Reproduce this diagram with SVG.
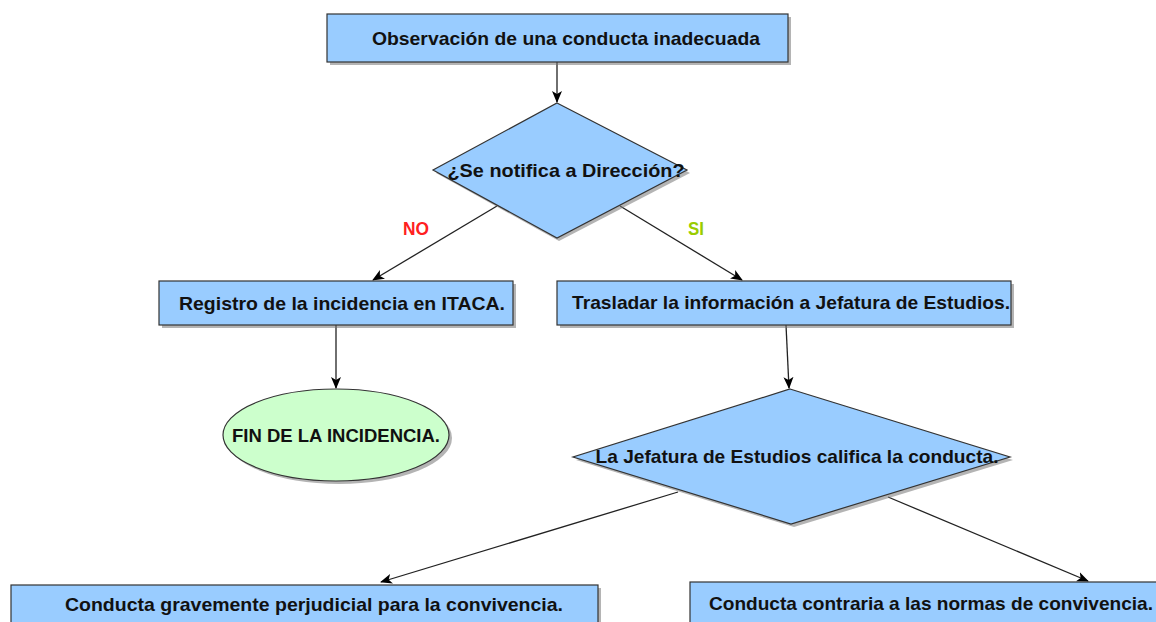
<svg xmlns="http://www.w3.org/2000/svg" width="1156" height="622" viewBox="0 0 1156 622">
<style>
.box{fill:#99ccff;stroke:#333;stroke-width:1.2}
.oval{fill:#ccffcc;stroke:#333;stroke-width:1.2}
.shadow{fill:#777;opacity:0.55}
.t{font-family:"Liberation Sans",Arial,sans-serif;font-weight:bold;font-size:19px;fill:#111;text-anchor:middle}
.lbl{font-family:"Liberation Sans",Arial,sans-serif;font-weight:bold;font-size:18px;text-anchor:middle}
.conn{stroke:#222;stroke-width:1.3;fill:none;marker-end:url(#arr)}
</style>
<defs>
<marker id="arr" viewBox="0 0 12 10" refX="11" refY="5" markerWidth="12" markerHeight="10" markerUnits="userSpaceOnUse" orient="auto">
<path d="M0,0 L12,5 L0,10 L3,5 z" fill="#000"/>
</marker>
</defs>
<rect width="1156" height="622" fill="#fff"/>
<g id="connectors">
<line class="conn" x1="557" y1="62" x2="557" y2="102"/>
<line class="conn" x1="497" y1="206" x2="373" y2="280"/>
<line class="conn" x1="620" y1="206" x2="742" y2="280"/>
<line class="conn" x1="336" y1="325" x2="336" y2="388"/>
<line class="conn" x1="786" y1="325" x2="789" y2="388"/>
<line class="conn" x1="678" y1="492" x2="381" y2="582"/>
<line class="conn" x1="888" y1="497" x2="1088" y2="581"/>
<text class="lbl" x="416" y="235" fill="#ff2020" textLength="26" lengthAdjust="spacingAndGlyphs">NO</text>
<text class="lbl" x="696" y="235" fill="#99cc00" textLength="16" lengthAdjust="spacingAndGlyphs">SI</text>
</g>
<g id="n-observacion">
<rect class="shadow" x="330" y="17" width="461" height="48"/>
<rect class="box" x="327" y="14" width="461" height="48"/>
<text class="t" x="566" y="45" textLength="388" lengthAdjust="spacingAndGlyphs">Observación de una conducta inadecuada</text>
</g>
<g id="n-notifica">
<polygon class="shadow" points="559,106 690,173 559,241 436,173"/>
<polygon class="box" points="557,103 687,170 557,238 433,170"/>
<text class="t" x="566" y="177" textLength="237" lengthAdjust="spacingAndGlyphs">¿Se notifica a Dirección?</text>
</g>
<g id="n-registro">
<rect class="shadow" x="162" y="284" width="354" height="44"/>
<rect class="box" x="159" y="281" width="354" height="44"/>
<text class="t" x="342" y="310" textLength="326" lengthAdjust="spacingAndGlyphs">Registro de la incidencia en ITACA.</text>
</g>
<g id="n-trasladar">
<rect class="shadow" x="560" y="284" width="454" height="44"/>
<rect class="box" x="557" y="281" width="454" height="44"/>
<text class="t" x="791" y="309" textLength="438" lengthAdjust="spacingAndGlyphs">Trasladar la información a Jefatura de Estudios.</text>
</g>
<g id="n-fin">
<ellipse class="shadow" cx="339" cy="438" rx="113" ry="46"/>
<ellipse class="oval" cx="336" cy="435" rx="113" ry="46"/>
<text class="t" x="336" y="442" textLength="208" lengthAdjust="spacingAndGlyphs">FIN DE LA INCIDENCIA.</text>
</g>
<g id="n-califica">
<polygon class="shadow" points="793,392 1013,460 794,527 576,460"/>
<polygon class="box" points="790,389 1010,457 791,524 573,457"/>
<text class="t" x="797" y="463" textLength="403" lengthAdjust="spacingAndGlyphs">La Jefatura de Estudios califica la conducta.</text>
</g>
<g id="n-grave">
<rect class="shadow" x="14" y="588" width="587" height="50"/>
<rect class="box" x="11" y="585" width="587" height="50"/>
<text class="t" x="314" y="611" textLength="498" lengthAdjust="spacingAndGlyphs">Conducta gravemente perjudicial para la convivencia.</text>
</g>
<g id="n-contraria">
<rect class="shadow" x="693" y="585" width="480" height="50"/>
<rect class="box" x="690" y="582" width="480" height="50"/>
<text class="t" x="931" y="610" textLength="444" lengthAdjust="spacingAndGlyphs">Conducta contraria a las normas de convivencia.</text>
</g>
</svg>
